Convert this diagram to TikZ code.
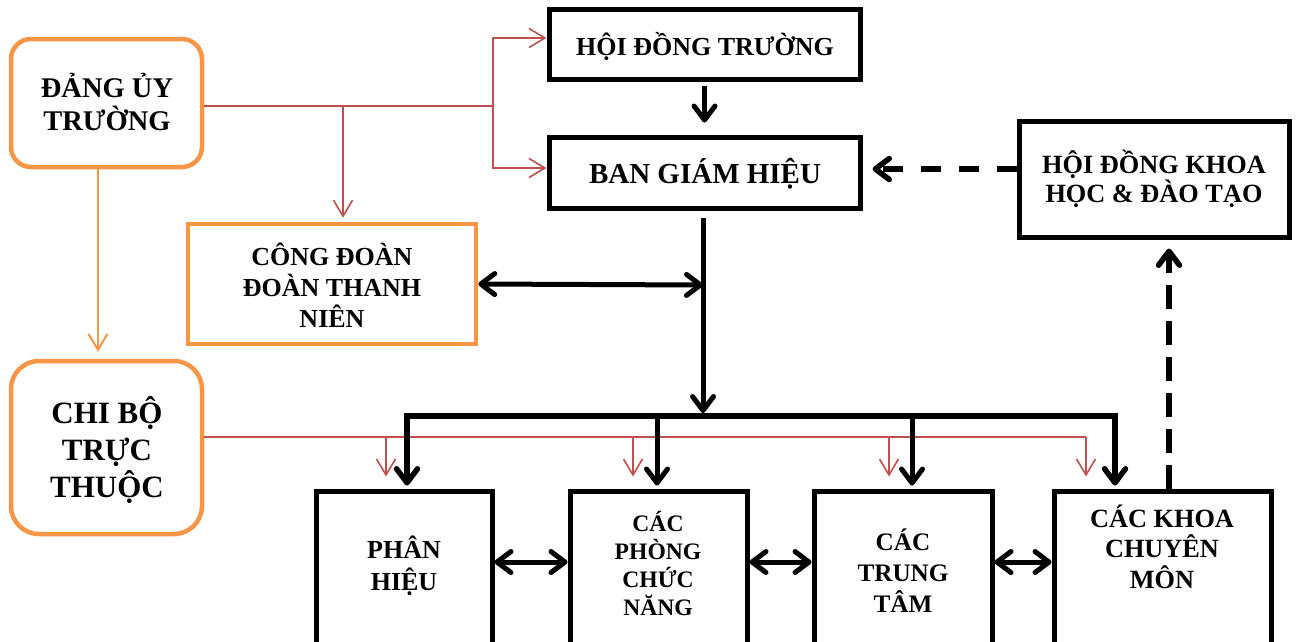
\documentclass[tikz,border=0pt]{standalone}
\usepackage{fontspec}
\setmainfont{Liberation Serif}
\usetikzlibrary{arrows.meta}
\definecolor{org}{HTML}{F79646}
\definecolor{redl}{HTML}{C0504D}
\newcommand\tsz[2]{\fontsize{#1}{#2}\selectfont\bfseries}
\begin{document}
\begin{tikzpicture}[x=1pt,y=-1pt,
  bx/.style={draw=black, line width=5pt, inner sep=0pt},
  obx/.style={draw=org, line width=4.5pt, inner sep=0pt},
  lbl/.style={anchor=base, align=center, inner sep=0pt},
  btip/.tip={Straight Barb[length=14pt,width=21pt,round]},
  rtip/.tip={Straight Barb[length=16pt,width=19pt]},
  arr/.style={line width=5pt, -btip},
  darr/.style={line width=5pt, btip-btip},
  busl/.style={line width=5.5pt},
  rline/.style={draw=redl, line width=1.6pt},
  rarr/.style={draw=redl, line width=1.6pt, -rtip},
  oarr/.style={draw=org, line width=2pt, -rtip},
  dshh/.style={line width=5.5pt, dash pattern=on 20pt off 18pt, -btip},
  dshv/.style={line width=5.5pt, dash pattern=on 24pt off 12pt, -btip}]
\useasboundingbox (0,0) rectangle (1298,641);
\clip (0,0) rectangle (1298,641);
\fill[white] (0,0) rectangle (1298,641);

% boxes
\node[obx, rounded corners=20pt, minimum width=191pt, minimum height=128pt] (dang) at (106.5,103) {};
\node[obx, rounded corners=28pt, minimum width=191pt, minimum height=173pt] (chibo) at (106.5,447.5) {};
\node[bx, minimum width=311pt, minimum height=70pt] (hdt) at (704.5,44) {};
\node[bx, minimum width=311pt, minimum height=71pt] (bgh) at (704.5,172.5) {};
\node[obx, minimum width=288pt, minimum height=120pt] (congdoan) at (332,284) {};
\node[bx, minimum width=270pt, minimum height=116pt] (hdkh) at (1154,179) {};
\node[bx, minimum width=176pt, minimum height=174pt] (phan) at (404,578) {};
\node[bx, minimum width=177pt, minimum height=174pt] (phong) at (658.5,578) {};
\node[bx, minimum width=178pt, minimum height=174pt] (trung) at (903,578) {};
\node[bx, minimum width=217pt, minimum height=174pt] (khoa) at (1162.5,578) {};

% texts
\node[lbl, font=\tsz{28.5}{33}] (tdang) at (107,130) {ĐẢNG ỦY\\TRƯỜNG};
\node[lbl, font=\tsz{31}{37}] (tchibo) at (107,497) {CHI BỘ\\TRỰC\\THUỘC};
\node[lbl, font=\tsz{26}{30}] (thdt) at (705,55) {HỘI ĐỒNG TRƯỜNG};
\node[lbl, font=\tsz{29}{33}] (tbgh) at (705,183) {BAN GIÁM HIỆU};
\node[lbl, font=\tsz{26}{31}] (tcd) at (332,327) {CÔNG ĐOÀN\\ĐOÀN THANH\\NIÊN};
\node[lbl, font=\tsz{26.3}{29}] (thdkh) at (1154,202) {HỘI ĐỒNG KHOA\\HỌC \& ĐÀO TẠO};
\node[lbl, font=\tsz{26}{32}] (tphan) at (404,590) {PHÂN\\HIỆU};
\node[lbl, font=\tsz{23.6}{27.7}] (tphong) at (658,615) {CÁC\\PHÒNG\\CHỨC\\NĂNG};
\node[lbl, font=\tsz{25.2}{31}] (ttrung) at (903,612) {CÁC\\TRUNG\\TÂM};
\node[lbl, font=\tsz{26.3}{30.5}] (tkhoa) at (1162,588) {CÁC KHOA\\CHUYÊN\\MÔN};

% red connectors from Dang uy
\coordinate (rA) at (343,106);
\coordinate (rB) at (493,106);
\coordinate (yHDT) at (0,38);
\coordinate (yBGH) at (0,168);
\draw[rline] (dang.east |- rA) -- (rB);
\draw[rarr, shorten >=4pt] (rA) -- (congdoan.north -| rA);
\draw[rarr] (rB) |- (hdt.west |- yHDT);
\draw[rarr] (rB) |- (bgh.west |- yBGH);

% orange connector
\coordinate (ox) at (98,0);
\draw[oarr, shorten >=7pt] (dang.south -| ox) -- (chibo.north -| ox);

% red connectors from Chi bo
\coordinate (rC) at (1086,437);
\coordinate (r1) at (386,437);
\coordinate (r2) at (633,437);
\coordinate (r3) at (889,437);
\draw[rline] (chibo.east |- rC) -- (rC);
\draw[rarr, shorten >=12pt] (r1) -- (r1 |- phan.north);
\draw[rarr, shorten >=12pt] (r2) -- (r2 |- phong.north);
\draw[rarr, shorten >=12pt] (r3) -- (r3 |- trung.north);
\draw[rarr, shorten >=12pt] (rC) -- (rC |- khoa.north);

% black main connectors
\draw[arr, shorten <=4pt, shorten >=12pt] (hdt.south) -- (bgh.north);
\coordinate (t1) at (703,285);
\coordinate (bus0) at (703,416);
\draw[arr, shorten <=7pt, shorten >=3pt] (bgh.south -| t1) -- (bus0);
\draw[darr] (congdoan.east) -- (t1);
\coordinate (d1) at (407,416);
\coordinate (d2) at (657,416);
\coordinate (d3) at (912,416);
\coordinate (d4) at (1115,416);
\draw[busl] (d2) -- (d3);
\draw[arr, line width=5.5pt, shorten >=3pt] (d2) -| (d1 |- phan.north);
\draw[arr, shorten >=3pt] (d2) -- (d2 |- phong.north);
\draw[arr, shorten >=3pt] (d3) -- (d3 |- trung.north);
\draw[arr, line width=5.5pt, shorten >=3pt] (d3) -| (d4 |- khoa.north);

% bottom double arrows
\coordinate (ym) at (0,562);
\draw[darr] (phan.east |- ym) -- (phong.west |- ym);
\draw[darr] (phong.east |- ym) -- (trung.west |- ym);
\draw[darr] (trung.east |- ym) -- (khoa.west |- ym);

% dashed connectors
\coordinate (yd) at (0,169);
\coordinate (xd) at (1169,0);
\draw[dshh, shorten >=10pt] (hdkh.west |- yd) -- (bgh.east |- yd);
\draw[dshv, shorten >=9pt] (khoa.north -| xd) -- (hdkh.south -| xd);
\end{tikzpicture}
\end{document}
